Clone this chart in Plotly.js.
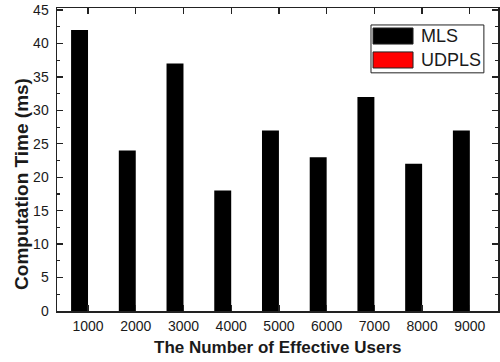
<!DOCTYPE html>
<html>
<head>
<meta charset="utf-8">
<script src="https://cdn.plot.ly/plotly-3.0.1.min.js"></script>
<style>html,body{margin:0;padding:0;background:#fff;}#chart{width:500px;height:362px;}</style>
</head>
<body>
<div id="chart"></div>
<script>
const categories = ["1000","2000","3000","4000","5000","6000","7000","8000","9000"];
const mlsValues = [42, 24, 37, 18, 27, 23, 32, 22, 27];
const udplsValues = [0, 0, 0, 0, 0, 0, 0, 0, 0];
const seriesNames = ["MLS", "UDPLS"];
const seriesColors = ["#000000", "#ff0000"];
const yTickVals = [0,5,10,15,20,25,30,35,40,45];
const xTitle = "The Number of Effective Users";
const yTitle = "Computation Time (ms)";

const traces = [
  {type:'bar', name:seriesNames[0], x:categories, y:mlsValues,
   marker:{color:seriesColors[0], line:{width:0}}, showlegend:false},
  {type:'bar', name:seriesNames[1], x:categories, y:udplsValues,
   marker:{color:seriesColors[1], line:{width:0}}, showlegend:false}
];

const font = {family:'Arial, "Liberation Sans", sans-serif', color:'#1a1a1a'};

const layout = {
  width:500, height:362,
  margin:{l:57, r:2, t:8, b:50.5, pad:0},
  paper_bgcolor:'#fff', plot_bgcolor:'#fff',
  barmode:'group', bargap:0.29, bargroupgap:0,
  font:font,
  xaxis:{
    type:'category', range:[-0.65, 8.59],
    showline:true, linecolor:'#222', linewidth:1.5, mirror:'ticks',
    ticks:'inside', ticklen:6, tickwidth:1.3, tickcolor:'#222',
    tickfont:{size:14, family:font.family, color:'#1a1a1a'},
    ticklabelstandoff:2,
    showgrid:false, zeroline:false, fixedrange:true
  },
  yaxis:{
    range:[0, 45.3],
    tickvals:yTickVals,
    showline:true, linecolor:'#222', linewidth:1.5, mirror:'ticks',
    ticks:'inside', ticklen:6, tickwidth:1.3, tickcolor:'#222',
    minor:{dtick:2.5, ticks:'inside', ticklen:3, tickwidth:1.1, tickcolor:'#222', showgrid:false},
    tickfont:{size:14, family:font.family, color:'#1a1a1a'},
    ticklabelstandoff:4,
    showgrid:false, zeroline:false, fixedrange:true
  },
  shapes:[
    {type:'rect', xref:'paper', yref:'paper', x0:0.712, x1:0.968, y0:0.786, y1:0.944,
     line:{color:'#222', width:1}, fillcolor:'#fff'},
    {type:'rect', xref:'paper', yref:'paper', x0:0.7166, x1:0.8073, y0:0.881, y1:0.934,
     line:{color:'#222', width:1}, fillcolor:seriesColors[0]},
    {type:'rect', xref:'paper', yref:'paper', x0:0.7166, x1:0.8073, y0:0.802, y1:0.855,
     line:{color:'#222', width:1}, fillcolor:seriesColors[1]}
  ],
  annotations:[
    {xref:'paper', yref:'paper', x:0.821, y:0.908, xanchor:'left', yanchor:'middle',
     text:seriesNames[0], showarrow:false, font:{size:18, family:font.family, color:'#1a1a1a'}},
    {xref:'paper', yref:'paper', x:0.821, y:0.829, xanchor:'left', yanchor:'middle',
     text:seriesNames[1], showarrow:false, font:{size:18, family:font.family, color:'#1a1a1a'}},
    {xref:'paper', yref:'paper', x:0.5, y:-0.122, xanchor:'center', yanchor:'middle',
     text:'<b>'+xTitle+'</b>', showarrow:false, font:{size:17, family:font.family, color:'#1a1a1a'}},
    {xref:'paper', yref:'paper', x:-0.079, y:0.42, xanchor:'center', yanchor:'middle', textangle:-90,
     text:'<b>'+yTitle+'</b>', showarrow:false, font:{size:19, family:font.family, color:'#1a1a1a'}}
  ]
};

Plotly.newPlot('chart', traces, layout, {staticPlot:true, displayModeBar:false});
</script>
</body>
</html>
